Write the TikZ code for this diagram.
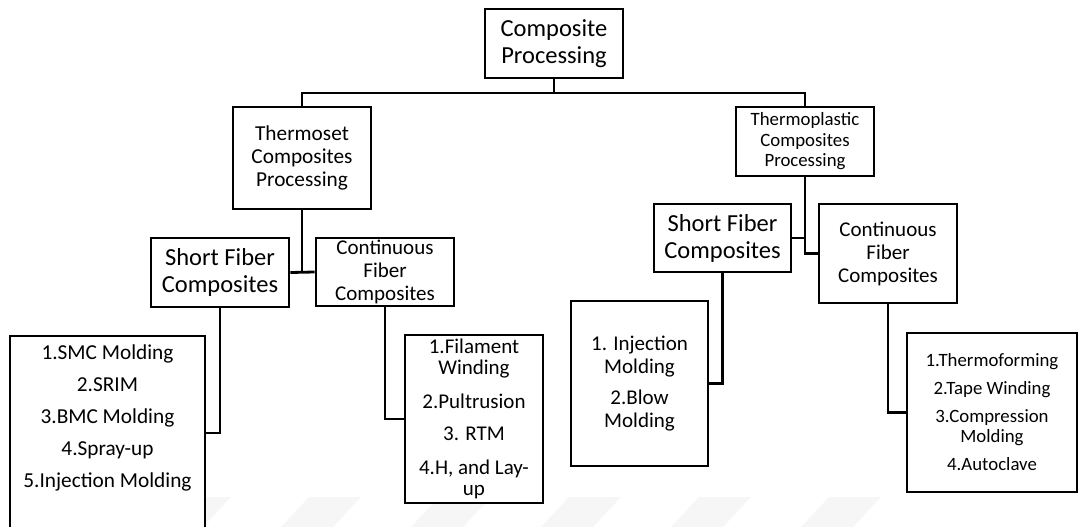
\documentclass[tikz,border=0pt]{standalone}
\usepackage{fontspec}
\setmainfont{Carlito}
\usetikzlibrary{positioning}

\begin{document}
\begin{tikzpicture}[x=1pt,y=-1pt,
		box/.style={draw, line width=2.8pt, fill=white, inner sep=0pt, align=center},
		link/.style={line width=2.8pt}]
			\useasboundingbox (0,0) rectangle (1079,527);
			% faint stripes at the bottom
			\foreach \sx in {49,179,...,829}
				\fill[gray!7] (\sx,497) -- ++(52,0) -- ++(-28,30) -- ++(-52,0) -- cycle;
			% top levels
			\node[box, minimum width=138pt, minimum height=69pt, font=\fontsize{24.5}{26.5}\selectfont] (root) at (554,43.5) {Composite\\Processing};
			\node[box, minimum width=138pt, minimum height=102pt, font=\fontsize{21.3}{23}\selectfont] (thermoset) at (302,158) {Thermoset\\Composites\\Processing};
			\node[box, minimum width=138pt, minimum height=69pt, font=\fontsize{18.8}{20.5}\selectfont] (thermoplastic) at (805,141.5) {Thermoplastic\\Composites\\Processing};
			% fiber types
			\node[box, minimum width=138pt, minimum height=69pt, font=\fontsize{24.5}{27}\selectfont] (sfL) at (220,272.5) {Short Fiber\\Composites};
			\node[box, minimum width=138pt, minimum height=68pt, font=\fontsize{21}{23}\selectfont] (cfL) at (385,272) {Continuous\\Fiber\\Composites};
			\node[box, minimum width=137pt, minimum height=68pt, font=\fontsize{24.5}{27}\selectfont] (sfR) at (722.5,238) {Short Fiber\\Composites};
			\node[box, minimum width=138pt, minimum height=99pt, font=\fontsize{21}{23}\selectfont] (cfR) at (888,253.5) {Continuous\\Fiber\\Composites};
			% methods
			\node[box, minimum width=195pt, minimum height=244pt] (smcBox) at (107.5,458) {};
			\node[anchor=north, inner sep=0pt, align=center, font=\fontsize{21.3}{32}\selectfont] (smcList) at (107.5,345) {1.SMC Molding\\2.SRIM\\3.BMC Molding\\4.Spray-up\\5.Injection Molding};
			\node[box, minimum width=138pt, minimum height=168pt, font=\fontsize{21}{20.5}\selectfont] (filament) at (474,419) {1.Filament\\Winding\\[14pt]2.Pultrusion\\[11pt]3. RTM\\[14pt]4.H, and Lay-\\up};
			\node[box, minimum width=137pt, minimum height=165pt, font=\fontsize{21}{23}\selectfont] (injection) at (639.5,383.5) {1. Injection\\Molding\\[8pt]2.Blow\\Molding};
			\node[box, minimum width=170pt, minimum height=159pt, font=\fontsize{18.8}{20}\selectfont] (thermoforming) at (992,412.5) {1.Thermoforming\\[8pt]2.Tape Winding\\[8pt]3.Compression\\Molding\\[8pt]4.Autoclave};
			% connectors
			\coordinate (bus) at (554,93);
			\draw[link] (root.south) -- (bus);
			\draw[link] (thermoset.north) |- (bus) -| (thermoplastic.north);
			\draw[link] (thermoset.south) -- (thermoset.south |- sfL.east);
			\draw[link] (sfL.east) -- (cfL.west);
			\draw[link] (thermoplastic.south) |- (cfR.west);
			\draw[link] (sfR.east) -- (sfR.east -| thermoplastic.south);
			\draw[link] (sfL.south) |- ([yshift=25pt]smcBox.east);
			\draw[link] (cfL.south) |- (filament.west);
			\draw[link] (sfR.south) |- (injection.east);
			\draw[link] (cfR.south) |- (thermoforming.west);
		\end{tikzpicture}
\end{document}
